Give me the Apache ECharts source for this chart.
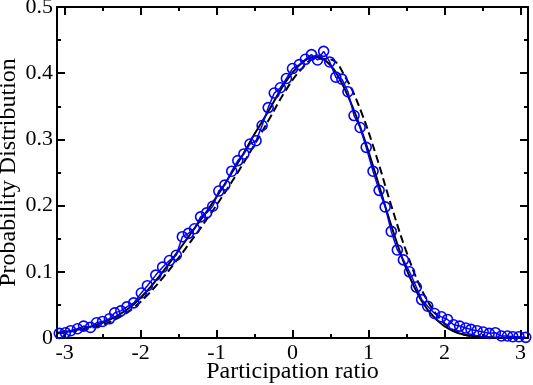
<!DOCTYPE html>
<html>
<head>
<meta charset="utf-8">
<script src="https://cdn.jsdelivr.net/npm/echarts@6/dist/echarts.min.js"></script>
<style>
  html, body { margin: 0; padding: 0; background: #fff; }
  #chart { width: 533px; height: 385px; }
</style>
</head>
<body>
<div id="chart"></div>
<script>
// measured points (blue circles)
const dataX = [-3.07, -2.99, -2.92, -2.83, -2.75, -2.66, -2.58, -2.50, -2.41, -2.34,
  -2.26, -2.18, -2.09, -1.99, -1.91, -1.80, -1.71, -1.62, -1.53, -1.45,
  -1.37, -1.29, -1.21, -1.13, -1.05, -0.97, -0.89, -0.80, -0.72, -0.64,
  -0.56, -0.48, -0.40, -0.32, -0.24, -0.16, -0.08, 0.00, 0.09, 0.17,
  0.25, 0.33, 0.41, 0.49, 0.57, 0.65, 0.73, 0.81, 0.89, 0.97,
  1.06, 1.14, 1.22, 1.30, 1.38, 1.46, 1.54, 1.63, 1.70, 1.78,
  1.87, 1.96, 2.04, 2.12, 2.20, 2.28, 2.35, 2.43, 2.51, 2.59,
  2.67, 2.75, 2.83, 2.90, 2.98, 3.07]
const dataY = [0.007, 0.008, 0.011, 0.014, 0.018, 0.016, 0.023, 0.025, 0.029, 0.038,
  0.041, 0.047, 0.053, 0.068, 0.079, 0.095, 0.107, 0.117, 0.125, 0.153,
  0.158, 0.165, 0.183, 0.189, 0.199, 0.222, 0.231, 0.252, 0.268, 0.278,
  0.293, 0.298, 0.321, 0.348, 0.370, 0.378, 0.392, 0.407, 0.413, 0.421,
  0.428, 0.420, 0.433, 0.417, 0.394, 0.391, 0.372, 0.336, 0.318, 0.288,
  0.252, 0.223, 0.198, 0.161, 0.133, 0.118, 0.100, 0.077, 0.058, 0.048,
  0.037, 0.032, 0.028, 0.020, 0.018, 0.015, 0.013, 0.011, 0.009, 0.007,
  0.008, 0.003, 0.003, 0.002, 0.002, 0.001]

// fitted curves
const fitX = [-3.1, -2.9, -2.7, -2.5, -2.3, -2.1, -1.9, -1.7, -1.5, -1.3,
  -1.1, -0.9, -0.7, -0.5, -0.3, -0.1, 0.1, 0.3, 0.5, 0.7,
  0.9, 1.1, 1.3, 1.5, 1.7, 1.9, 2.1, 2.3, 2.5, 2.7, 2.9, 3.1]
const solidY = [0.008, 0.011, 0.016, 0.023, 0.034, 0.050, 0.073, 0.101, 0.132, 0.164,
  0.196, 0.231, 0.268, 0.308, 0.346, 0.385, 0.413, 0.425, 0.412, 0.373,
  0.316, 0.245, 0.170, 0.104, 0.056, 0.027, 0.011, 0.004, 0.0015, 0.0005, 0.0002, 0]
const dashedY = [0.007, 0.010, 0.014, 0.020, 0.030, 0.045, 0.066, 0.092, 0.121, 0.152,
  0.184, 0.218, 0.254, 0.292, 0.332, 0.372, 0.404, 0.422, 0.421, 0.393,
  0.343, 0.276, 0.200, 0.130, 0.073, 0.035, 0.013, 0.004, 0.001, 0.0003, 0.0001, 0]

const font = 'Liberation Serif'

function zip(xs, ys) {
  return xs.map((x, i) => [x, ys[i]])
}

function xAxisOf(pos, labels) {
  return {
    type: 'value',
    position: pos,
    min: -3.1,
    max: 3.1,
    splitNumber: 6,
    name: labels ? 'Participation ratio' : '',
    nameLocation: 'middle',
    nameGap: 22,
    nameMoveOverlap: false,
    nameTextStyle: { fontFamily: font, fontSize: 24, color: '#000' },
    axisLine: { show: true, onZero: false, lineStyle: { color: '#000', width: 2 } },
    axisTick: { show: true, inside: true, length: 8, lineStyle: { color: '#000', width: 2 } },
    minorTick: { show: true, splitNumber: 2, length: 4, lineStyle: { color: '#000', width: 2 } },
    axisLabel: {
      show: labels,
      margin: 4,
      fontFamily: font,
      fontSize: 22,
      color: '#000',
      formatter: function(v) {
        return Math.abs(v - Math.round(v)) < 1e-6 ? String(Math.round(v)) : ''
      }
    },
    splitLine: { show: false }
  }
}

function yAxisOf(pos, labels) {
  return {
    type: 'value',
    position: pos,
    min: 0,
    max: 0.5,
    interval: 0.1,
    name: labels ? 'Probability Distribution' : '',
    nameLocation: 'middle',
    nameGap: 36,
    nameMoveOverlap: false,
    nameTextStyle: { fontFamily: font, fontSize: 24, color: '#000' },
    axisLine: { show: true, onZero: false, lineStyle: { color: '#000', width: 2 } },
    axisTick: { show: true, inside: true, length: 8, lineStyle: { color: '#000', width: 2 } },
    minorTick: { show: true, splitNumber: 2, length: 4, lineStyle: { color: '#000', width: 2 } },
    axisLabel: { show: labels, margin: 4, fontFamily: font, fontSize: 22, color: '#000' },
    splitLine: { show: false }
  }
}

const chart = echarts.init(document.getElementById('chart'), null, { renderer: 'canvas' })
chart.setOption({
  animation: false,
  backgroundColor: '#fff',
  grid: { left: 57, right: 5, top: 7, bottom: 47, containLabel: false, outerBoundsMode: 'none' },
  xAxis: [xAxisOf('bottom', true), xAxisOf('top', false)],
  yAxis: [yAxisOf('left', true), yAxisOf('right', false)],
  series: [
    {
      name: 'fit',
      type: 'line',
      data: zip(fitX, solidY),
      smooth: 0.4,
      symbol: 'none',
      lineStyle: { color: '#000', width: 2 },
      z: 2
    },
    {
      name: 'fit2',
      type: 'line',
      data: zip(fitX, dashedY),
      smooth: 0.4,
      symbol: 'none',
      lineStyle: { color: '#000', width: 2, type: [8, 4] },
      z: 2
    },
    {
      name: 'data',
      type: 'line',
      data: zip(dataX, dataY),
      symbol: 'circle',
      symbolSize: 10,
      lineStyle: { color: '#0000ff', width: 1.5 },
      itemStyle: { color: 'rgba(0,0,0,0)', borderColor: '#0000ff', borderWidth: 1.6 },
      z: 3
    }
  ]
})
</script>
</body>
</html>
